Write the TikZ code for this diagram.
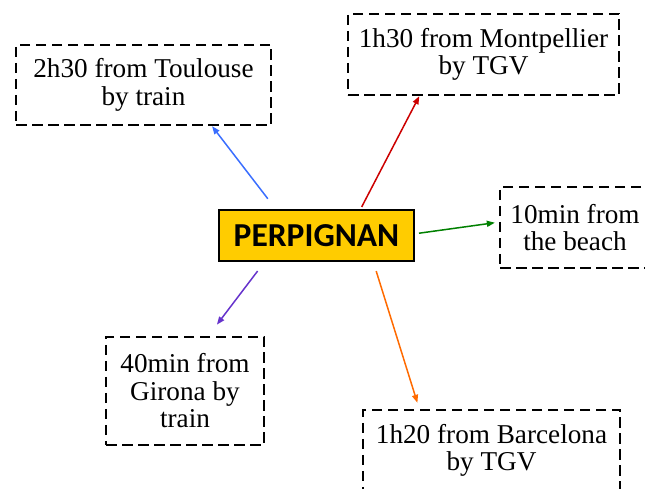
\documentclass[tikz,border=0pt]{standalone}
\usepackage{fontspec}
\setmainfont{Liberation Serif}
\newfontfamily\titlefont{Carlito}
\usetikzlibrary{arrows.meta}
\definecolor{cityyellow}{RGB}{255,204,0}
\definecolor{toublue}{RGB}{58,110,255}
\definecolor{monred}{RGB}{204,0,0}
\definecolor{beachgreen}{RGB}{0,128,0}
\definecolor{girpurple}{RGB}{102,51,204}
\definecolor{barorange}{RGB}{255,106,0}
\begin{document}
\begin{tikzpicture}[x=1pt, y=1pt,
  place/.style={draw, line width=2.4pt, dash pattern=on 10.5pt off 5.5pt, align=center, inner sep=0pt, font=\fontsize{27.2}{27.5}\selectfont},
  link/.style={-{Triangle[length=8pt, width=6pt]}, line width=1.5pt}]
\clip (0,0) rectangle (645,489);
\node [fill=cityyellow, draw, line width=2pt, minimum width=195pt, minimum height=51pt, inner sep=0pt, font=\titlefont\bfseries\fontsize{33.5}{34}\selectfont] (city) at (316.5,253.5) {PERPIGNAN};
\node [place, minimum width=255pt, minimum height=80pt] (toulouse) at (143.5,404) {2h30 from Toulouse\\by train};
\node [place, minimum width=271pt, minimum height=81pt] (montpellier) at (483.5,434.5) {1h30 from Montpellier\\by TGV};
\node [place, minimum width=150pt, minimum height=81pt] (beach) at (575,261.5) {10min from\\the beach};
\node [place, minimum width=158pt, minimum height=108pt] (girona) at (185,98) {40min from\\Girona by\\train};
\node [place, minimum width=257pt, minimum height=81pt] (barcelona) at (491.5,38.5) {1h20 from Barcelona\\by TGV};
\draw [link, toublue, shorten <=12.9pt] (city.147.8) -- (toulouse.-31.8);
\draw [link, monred, shorten <=2.3pt] (city.31) -- (montpellier.213);
\draw [link, beachgreen, shorten <=4pt, shorten >=4pt] (city.1.8) -- (beach.176);
\draw [link, girpurple, shorten <=11.4pt, shorten >=14pt] (city.207.7) -- (girona.67);
\draw [link, barorange, shorten <=9.5pt, shorten >=6.3pt] (city.-25.5) -- (barcelona.150);
\end{tikzpicture}
\end{document}
